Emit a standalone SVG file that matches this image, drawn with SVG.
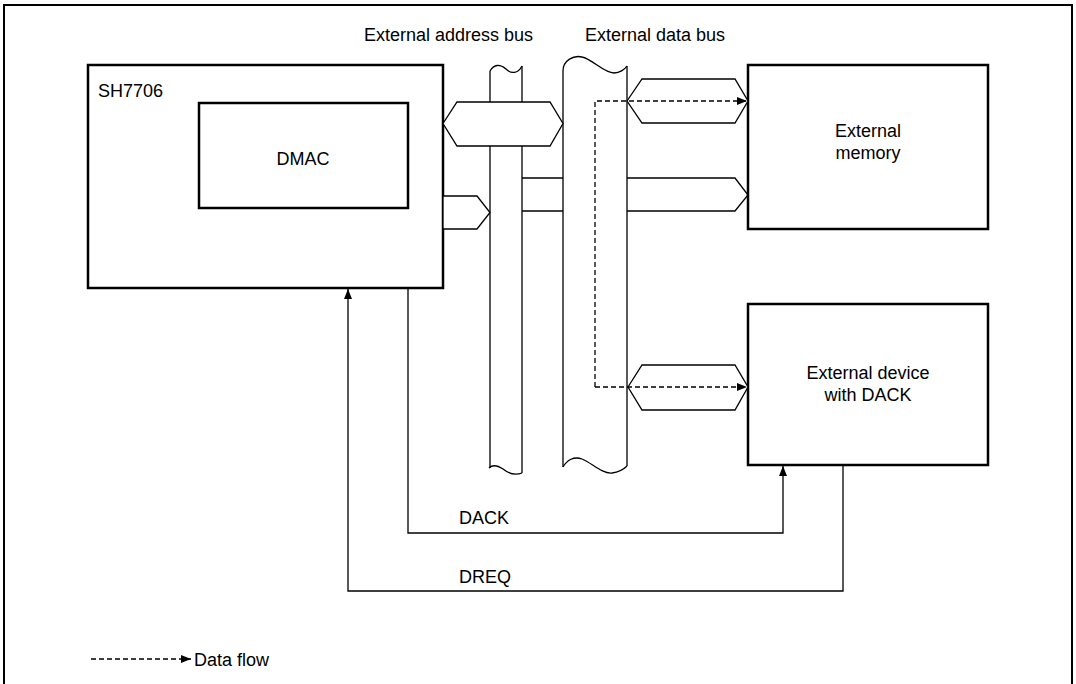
<svg xmlns="http://www.w3.org/2000/svg" width="1076" height="684" viewBox="0 0 1076 684">
<defs>
<style>
.t{font-family:"Liberation Sans",Arial,sans-serif;font-size:18px;fill:#000}
.box{fill:#fff;stroke:#000;stroke-width:2.5}
.ln{fill:none;stroke:#000;stroke-width:1.3}
.hx{fill:#fff;stroke:#000;stroke-width:1.3}
.dash{fill:none;stroke:#000;stroke-width:1.3;stroke-dasharray:5 3}
</style>
<marker id="ah" viewBox="0 0 10 8" refX="10" refY="4" markerWidth="10" markerHeight="8" markerUnits="userSpaceOnUse" orient="auto">
<path d="M0,0 L10,4 L0,8 Z" fill="#000"/>
</marker>
</defs>
<rect width="1076" height="684" fill="#fff"/>
<path d="M4,684 V5 H1072 V684" fill="none" stroke="#000" stroke-width="2"/>
<text class="t" x="364" y="41">External address bus</text>
<text class="t" x="585" y="41">External data bus</text>

<g id="address-bus">
<path class="ln" d="M490,71 C494,64 500,64 506,69 C511,74 518,74 522,66"/>
<path class="ln" d="M490,71 V468 M522,66 V473"/>
<path class="ln" d="M489,468 C492,465 497,465 503,469 C508,473 514,476 522,473"/>
</g>
<g id="data-bus">
<path class="ln" d="M563,71 C563,60 574,55 582,57 C592,59 604,73 614,73 C620,73 625,69 627,66"/>
<path class="ln" d="M563,71 V467 M627,66 V466"/>
<path class="ln" d="M563,467 C567,460 574,456 582,459 C592,463 602,474 612,473 C619,472 625,468 627,466"/>
</g>

<g id="sh7706">
<rect class="box" x="88" y="65" width="355" height="223"/>
<text class="t" x="98" y="97">SH7706</text>
</g>
<g id="dmac">
<rect class="box" x="199" y="103" width="209" height="105"/>
<text class="t" x="303" y="165" text-anchor="middle">DMAC</text>
</g>
<g id="external-memory">
<rect class="box" x="748" y="65" width="240" height="164"/>
<text class="t" x="868" y="137" text-anchor="middle">External</text>
<text class="t" x="868" y="159" text-anchor="middle">memory</text>
</g>
<g id="external-device">
<rect class="box" x="748" y="304" width="240" height="161"/>
<text class="t" x="868" y="379" text-anchor="middle">External device</text>
<text class="t" x="868" y="401" text-anchor="middle">with DACK</text>
</g>

<g id="connectors">
<polygon class="hx" points="443,123.5 457,102 550,102 563,123.5 550,146 457,146"/>
<polygon class="hx" points="443,196 477,196 490,212.5 477,229 443,229"/>
<path class="ln" d="M522,178 H563 M522,211 H563"/>
<path class="ln" d="M627,178 H735 L748,195 L735,211 H627"/>
<polygon class="hx" points="627,101 642,79 735,79 748,101 735,123 642,123"/>
<polygon class="hx" points="628,387 642,365 735,365 748,387 735,410 642,410"/>
<path class="dash" d="M595,387 V101 H747" marker-end="url(#ah)"/>
<path class="dash" d="M595,387 H747" marker-end="url(#ah)"/>
<path class="ln" d="M408,288 V533 H783 V466" marker-end="url(#ah)"/>
<path class="ln" d="M843,465 V591 H348 V289" marker-end="url(#ah)"/>
<text class="t" x="459" y="524">DACK</text>
<text class="t" x="459" y="583">DREQ</text>
</g>

<g id="legend">
<path class="dash" d="M91,659 H191" marker-end="url(#ah)"/>
<text class="t" x="194" y="666">Data flow</text>
</g>
</svg>
